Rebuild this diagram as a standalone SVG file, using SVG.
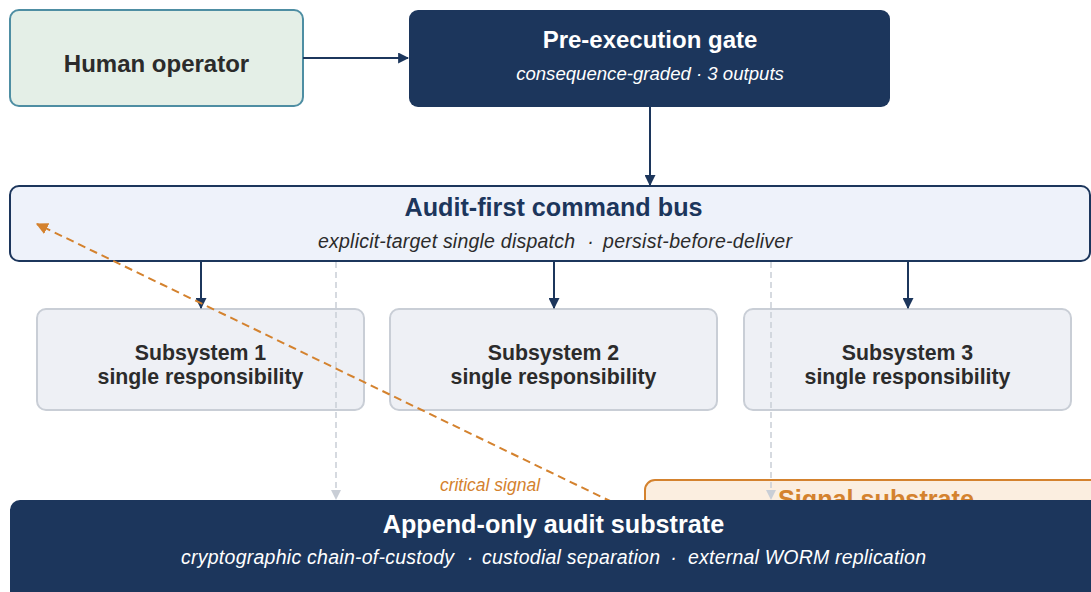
<svg xmlns="http://www.w3.org/2000/svg" width="1091" height="592" viewBox="0 0 1091 592">
<style>
text{font-family:"Liberation Sans",Arial,sans-serif}
.t{font-weight:bold;font-size:24px;text-anchor:middle}
.big{font-weight:bold;font-size:25.2px;text-anchor:middle}
.sub{font-style:italic;font-size:18.6px;text-anchor:middle}
.sub2{font-style:italic;font-size:19.5px}
.dot{text-anchor:middle}
.ss{font-weight:bold;font-size:21.3px;text-anchor:middle;fill:#2b2b2b}
.ssbox{fill:#eef0f5;stroke:#c9ced6;stroke-width:2}
.solid{stroke:#1c365c;stroke-width:2;fill:none}
.gray{stroke:#c9ced6;stroke-width:1.5;fill:none;stroke-dasharray:6 4}
.orange{stroke:#d4822e;stroke-width:2;fill:none;stroke-dasharray:8 5}
</style>
<defs>
<marker id="adb" viewBox="0 0 10 10" refX="9" refY="5" markerWidth="11" markerHeight="11" orient="auto" markerUnits="userSpaceOnUse"><path d="M0,0 L10,5 L0,10 z" fill="#1c365c"/></marker>
<marker id="ag" viewBox="0 0 10 10" refX="9" refY="5" markerWidth="10" markerHeight="10" orient="auto" markerUnits="userSpaceOnUse"><path d="M0,0 L10,5 L0,10 z" fill="#c9ced6"/></marker>
<marker id="ao" viewBox="0 0 10 10" refX="9" refY="5" markerWidth="12" markerHeight="12" orient="auto" markerUnits="userSpaceOnUse"><path d="M0,0 L10,5 L0,10 z" fill="#d4822e"/></marker>
</defs>
<rect width="1091" height="592" fill="#ffffff"/>
<g id="human-operator">
<rect x="10" y="10" width="293" height="96" rx="9" fill="#e4efe7" stroke="#4e8ea3" stroke-width="2"/>
<text class="t" x="156.5" y="72" fill="#2b2b2b">Human operator</text>
</g>
<g id="pre-execution-gate">
<rect x="409" y="10" width="481" height="97" rx="9" fill="#1c365c"/>
<text class="t" x="650" y="48" fill="#ffffff">Pre-execution gate</text>
<text class="sub" x="650" y="80" fill="#ffffff">consequence-graded · 3 outputs</text>
</g>
<g id="command-bus">
<rect x="10" y="186" width="1080" height="75" rx="9" fill="#eef2fa" stroke="#1c365c" stroke-width="2"/>
<text class="big" x="553.5" y="216" fill="#1c365c">Audit-first command bus</text>
<text class="sub2" y="248" fill="#2b2b2b"><tspan x="318" textLength="257">explicit-target single dispatch</tspan><tspan class="dot" x="590.5">·</tspan><tspan x="603" textLength="189">persist-before-deliver</tspan></text>
</g>
<g id="subsystem-1">
<rect class="ssbox" x="37" y="309" width="327" height="101" rx="9"/>
<text class="ss" x="200.5" y="360">Subsystem 1</text>
<text class="ss" x="200.5" y="384">single responsibility</text>
</g>
<g id="subsystem-2">
<rect class="ssbox" x="390" y="309" width="327" height="101" rx="9"/>
<text class="ss" x="553.5" y="360">Subsystem 2</text>
<text class="ss" x="553.5" y="384">single responsibility</text>
</g>
<g id="subsystem-3">
<rect class="ssbox" x="744" y="309" width="327" height="101" rx="9"/>
<text class="ss" x="907.5" y="360">Subsystem 3</text>
<text class="ss" x="907.5" y="384">single responsibility</text>
</g>
<g id="signal-substrate">
<rect x="645" y="480" width="470" height="100" rx="10" fill="#fbeee0" stroke="#d4822e" stroke-width="2"/>
<text class="big" x="876" y="508" fill="#d4822e">Signal substrate</text>
</g>
<g id="connectors">
<line class="solid" x1="303" y1="58" x2="408" y2="58" marker-end="url(#adb)"/>
<line class="solid" x1="650" y1="107" x2="650" y2="185" marker-end="url(#adb)"/>
<line class="solid" x1="201" y1="261" x2="201" y2="308" marker-end="url(#adb)"/>
<line class="solid" x1="554" y1="261" x2="554" y2="308" marker-end="url(#adb)"/>
<line class="solid" x1="908" y1="261" x2="908" y2="308" marker-end="url(#adb)"/>
<line class="gray" x1="336" y1="262" x2="336" y2="499" marker-end="url(#ag)"/>
<line class="gray" x1="771" y1="262" x2="771" y2="499" marker-end="url(#ag)"/>
<line class="orange" x1="612" y1="502" x2="37" y2="224" marker-end="url(#ao)"/>
<text x="490" y="491" font-size="17.5" font-style="italic" fill="#d4822e" text-anchor="middle">critical signal</text>
</g>
<g id="audit-substrate">
<rect x="10" y="500" width="1100" height="110" rx="10" fill="#1c365c"/>
<text class="big" x="553.5" y="533" fill="#ffffff">Append-only audit substrate</text>
<text class="sub2" y="564" fill="#ffffff"><tspan x="181" textLength="273">cryptographic chain-of-custody</tspan><tspan class="dot" x="470">·</tspan><tspan x="482" textLength="178">custodial separation</tspan><tspan class="dot" x="673.5">·</tspan><tspan x="688" textLength="238">external WORM replication</tspan></text>
</g>
</svg>
